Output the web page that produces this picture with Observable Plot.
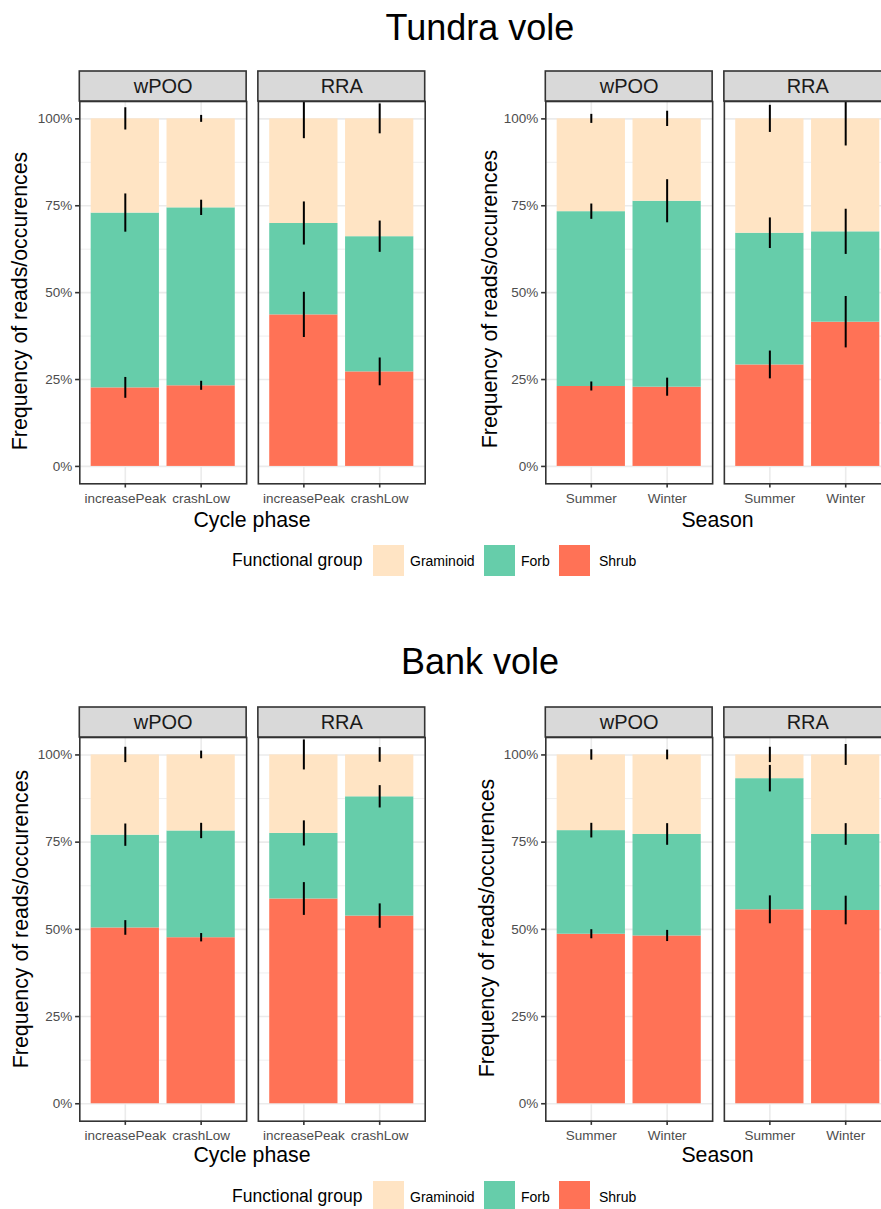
<!DOCTYPE html>
<html><head><meta charset="utf-8">
<script src="https://cdn.jsdelivr.net/npm/d3@7"></script>
<script src="https://cdn.jsdelivr.net/npm/@observablehq/plot@0.6"></script>
<style>
html,body{margin:0;padding:0;background:#fff;}
#root{position:relative;width:881px;height:1209px;overflow:hidden;font-family:"Liberation Sans",Arial,Helvetica,sans-serif;color:#000;}
.abs{position:absolute;white-space:nowrap;line-height:1;}
.plot{position:absolute;}
</style></head><body><div id="root"></div>
<script>
const groups = ["Graminoid", "Forb", "Shrub"];
const groupColors = ["#FFE4C4", "#66CDAA", "#FF7256"];
const methods = ["wPOO", "RRA"];
const phases = ["increasePeak", "crashLow"];
const seasons = ["Summer", "Winter"];
const yTicks = [0, 25, 50, 75, 100];
const yMinor = [12.5, 37.5, 62.5, 87.5];
const yDomain = [-5, 105];

// order in every array: wPOO/cat1, wPOO/cat2, RRA/cat1, RRA/cat2  (percent)
const tundraPhaseShrub = [22.6, 23.2, 43.6, 27.2];
const tundraPhaseForb = [50.3, 51.2, 26.3, 38.9];
const tundraPhaseGraminoid = [27.1, 25.6, 30.1, 33.9];
const tundraPhaseShrubErr = [3.0, 1.3, 6.5, 4.0];
const tundraPhaseForbErr = [5.5, 2.2, 6.2, 4.5];
const tundraPhaseGraminoidErr = [3.2, 1.0, 5.7, 4.3];

const tundraSeasonShrub = [23.0, 22.8, 29.2, 41.5];
const tundraSeasonForb = [50.3, 53.5, 37.9, 26.0];
const tundraSeasonGraminoid = [26.7, 23.7, 32.9, 32.5];
const tundraSeasonShrubErr = [1.3, 2.6, 4.0, 7.4];
const tundraSeasonForbErr = [2.2, 6.2, 4.4, 6.5];
const tundraSeasonGraminoidErr = [1.3, 2.2, 3.9, 7.8];

const bankPhaseShrub = [50.4, 47.6, 58.7, 53.8];
const bankPhaseForb = [26.6, 30.6, 18.8, 34.2];
const bankPhaseGraminoid = [23.0, 21.8, 22.5, 12.0];
const bankPhaseShrubErr = [2.1, 1.2, 4.7, 3.5];
const bankPhaseForbErr = [3.2, 2.2, 3.6, 3.2];
const bankPhaseGraminoidErr = [2.2, 1.1, 4.3, 2.1];

const bankSeasonShrub = [48.6, 48.1, 55.6, 55.4];
const bankSeasonForb = [29.7, 29.1, 37.6, 21.8];
const bankSeasonGraminoid = [21.7, 22.8, 6.8, 22.8];
const bankSeasonShrubErr = [1.3, 1.6, 4.0, 4.1];
const bankSeasonForbErr = [2.1, 3.1, 3.8, 3.1];
const bankSeasonGraminoidErr = [1.5, 1.4, 2.2, 3.0];

function makeRows(cats, shrub, forb, gram, eS, eF, eG) {
  const rows = [];
  methods.forEach((m, i) => cats.forEach((c, j) => {
    const k = i * 2 + j;
    const stack = [["Shrub", shrub[k], eS[k]], ["Forb", forb[k], eF[k]], ["Graminoid", gram[k], eG[k]]];
    let base = 0;
    for (const [g, v, e] of stack) {
      rows.push({method: m, cat: c, group: g, value: v, bottom: base, top: base + v, err: e});
      base += v;
    }
  }));
  return rows;
}

const FONT = '"Liberation Sans", Arial, Helvetica, sans-serif';

function chart(rows, cats, height, frameH) {
  return Plot.plot({
    width: 440, height,
    marginLeft: 79.3, marginRight: 15.3, marginTop: 41, marginBottom: height - 41 - frameH,
    style: {fontFamily: FONT, fontSize: "13.5px", background: "transparent", overflow: "visible"},
    fx: {domain: methods, paddingInner: 0.0656, paddingOuter: 0, round: false, axis: null, label: null},
    x: {domain: cats, paddingInner: 0.1, paddingOuter: 0.15, round: false, label: null},
    y: {domain: yDomain, label: null},
    color: {domain: groups, range: groupColors},
    marks: [
      Plot.ruleY(yMinor, {stroke: "#EBEBEB", strokeWidth: 0.8}),
      Plot.ruleY(yTicks, {stroke: "#EBEBEB", strokeWidth: 1.6}),
      Plot.ruleX(cats, {x: d => d, stroke: "#EBEBEB", strokeWidth: 1.6}),
      Plot.barY(rows, {fx: "method", x: "cat", y1: "bottom", y2: "top", fill: "group", inset: 0}),
      Plot.ruleX(rows, {fx: "method", x: "cat",
        y1: d => Math.max(yDomain[0], d.top - d.err),
        y2: d => Math.min(yDomain[1], d.top + d.err),
        stroke: "#000", strokeWidth: 2}),
      Plot.frame({stroke: "#333333", strokeWidth: 1.6}),
      Plot.barY(methods, {fx: d => d, y1: yDomain[1], y2: yDomain[1], insetTop: -30, fill: "#D9D9D9", stroke: "#333333", strokeWidth: 1.6}),
      Plot.text(methods, {fx: d => d, text: d => d, frameAnchor: "top", lineAnchor: "middle", dy: -15, fontSize: 20, fill: "#1A1A1A"}),
      Plot.axisY({ticks: yTicks, tickFormat: d => d + "%", tickSize: 4.2, tickPadding: 3.4,
        stroke: "#333333", strokeWidth: 1.6, fill: "#4D4D4D", label: null, fontSize: 13.5}),
      Plot.axisX({tickSize: 4.2, tickPadding: 5.5, stroke: "#333333", strokeWidth: 1.6,
        fill: "#4D4D4D", label: null, fontSize: 13.5})
    ]
  });
}

const root = document.getElementById("root");
function place(el, left, top) {
  el.classList.add("plot");
  el.style.left = left + "px";
  el.style.top = top + "px";
  root.appendChild(el);
}
function text(str, {left, top, size, anchor = "start", rotate = false, color = "#000"}) {
  const d = document.createElement("div");
  d.className = "abs";
  d.textContent = str;
  d.style.fontSize = size + "px";
  d.style.color = color;
  d.style.left = left + "px";
  d.style.top = top + "px";
  if (rotate) d.style.transform = "translate(-50%,-50%) rotate(-90deg)";
  else if (anchor === "middle") d.style.transform = "translate(-50%,-50%)";
  else d.style.transform = "translate(0,-50%)";
  root.appendChild(d);
}
function legend(cy) {
  text("Functional group", {left: 232, top: cy, size: 17.5});
  const keyX = [373, 484, 559];
  const labX = [410, 521, 599];
  groups.forEach((g, i) => {
    const s = document.createElement("div");
    s.className = "abs";
    s.style.left = keyX[i] + "px";
    s.style.top = (cy - 15.5) + "px";
    s.style.width = "31px";
    s.style.height = "31px";
    s.style.background = groupColors[i];
    root.appendChild(s);
    text(g, {left: labX[i], top: cy, size: 14});
  });
}

const RIGHT = 465.7;
// Tundra vole
text("Tundra vole", {left: 480, top: 28, size: 36, anchor: "middle"});
place(chart(makeRows(phases, tundraPhaseShrub, tundraPhaseForb, tundraPhaseGraminoid, tundraPhaseShrubErr, tundraPhaseForbErr, tundraPhaseGraminoidErr), phases, 450, 382.3), 0, 60);
place(chart(makeRows(seasons, tundraSeasonShrub, tundraSeasonForb, tundraSeasonGraminoid, tundraSeasonShrubErr, tundraSeasonForbErr, tundraSeasonGraminoidErr), seasons, 450, 382.3), RIGHT, 60);
text("Frequency of reads/occurences", {left: 21, top: 301, size: 21.3, rotate: true});
text("Frequency of reads/occurences", {left: 491, top: 299, size: 21.3, rotate: true});
text("Cycle phase", {left: 252, top: 521, size: 21.3, anchor: "middle"});
text("Season", {left: 717.5, top: 521, size: 21.3, anchor: "middle"});
legend(560.5);

// Bank vole
text("Bank vole", {left: 480, top: 662, size: 36, anchor: "middle"});
place(chart(makeRows(phases, bankPhaseShrub, bankPhaseForb, bankPhaseGraminoid, bankPhaseShrubErr, bankPhaseForbErr, bankPhaseGraminoidErr), phases, 451.4, 383.7), 0, 695.7);
place(chart(makeRows(seasons, bankSeasonShrub, bankSeasonForb, bankSeasonGraminoid, bankSeasonShrubErr, bankSeasonForbErr, bankSeasonGraminoidErr), seasons, 451.4, 383.7), RIGHT, 695.7);
text("Frequency of reads/occurences", {left: 22, top: 919, size: 21.3, rotate: true});
text("Frequency of reads/occurences", {left: 488, top: 928, size: 21.3, rotate: true});
text("Cycle phase", {left: 252, top: 1156, size: 21.3, anchor: "middle"});
text("Season", {left: 717.5, top: 1156, size: 21.3, anchor: "middle"});
legend(1196.5);
</script></body></html>
